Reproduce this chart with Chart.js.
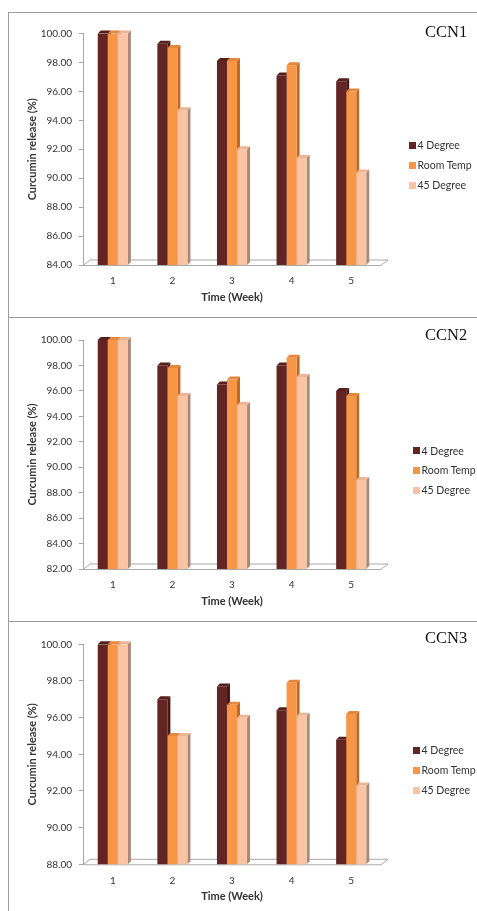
<!DOCTYPE html>
<html>
<head>
<meta charset="utf-8">
<script src="https://cdn.jsdelivr.net/npm/chart.js@4.4.1/dist/chart.umd.min.js"></script>
<style>
  html, body { margin: 0; padding: 0; background: #fff; }
  body { width: 477px; height: 911px; position: relative; overflow: hidden; font-family: Lato, "Open Sans", sans-serif; }
  .frame { position: absolute; left: 8px; width: 469px; box-sizing: border-box;
           border-left: 1px solid #9c9c9c; border-top: 1px solid #9c9c9c; }
  canvas.plot { position: absolute; left: 9px; }
  .tag { position: absolute; left: 425px; font-family: "Liberation Serif", "Times New Roman", serif;
         font-size: 16.5px; line-height: 16.5px; color: #111; white-space: nowrap; }
  .legend { position: absolute; font-family: Lato, sans-serif; font-size: 10.5px; color: #333; }
  .legend .row { position: absolute; left: 0; height: 14px; line-height: 14px; white-space: nowrap; }
  .legend .sw { position: absolute; left: 0; top: 3.5px; width: 7px; height: 7px; }
  .legend .tx { position: absolute; left: 8.5px; top: 0; }
</style>
</head>
<body>
<div class="frame" style="top:12px;height:306px;"></div>
<div class="frame" style="top:317px;height:305px;"></div>
<div class="frame" style="top:621px;height:300px;"></div>

<canvas class="plot" id="c1" width="468" height="304" style="top:13px;width:468px;height:304px;"></canvas>
<canvas class="plot" id="c2" width="468" height="303" style="top:318px;width:468px;height:303px;"></canvas>
<canvas class="plot" id="c3" width="468" height="288" style="top:623px;width:468px;height:288px;"></canvas>

<script>
// Storage weeks and the three storage conditions
const weeks = ['1', '2', '3', '4', '5'];
const seriesNames = ['4 Degree', 'Room Temp', '45 Degree'];

// CCN1 curcumin release (%)
const ccn1Cold = [100.0, 99.3, 98.1, 97.1, 96.7];
const ccn1Room = [100.0, 99.0, 98.1, 97.8, 96.0];
const ccn1Hot  = [100.0, 94.7, 92.0, 91.4, 90.4];
const ccn1Range = [84, 100];

// CCN2 curcumin release (%)
const ccn2Cold = [100.0, 98.0, 96.5, 98.0, 96.0];
const ccn2Room = [100.0, 97.8, 96.9, 98.6, 95.6];
const ccn2Hot  = [100.0, 95.6, 94.9, 97.1, 89.0];
const ccn2Range = [82, 100];

// CCN3 curcumin release (%)
const ccn3Cold = [100.0, 97.0, 97.7, 96.4, 94.8];
const ccn3Room = [100.0, 95.0, 96.7, 97.9, 96.2];
const ccn3Hot  = [100.0, 95.0, 96.0, 96.1, 92.3];
const ccn3Range = [88, 100];

const yStep = 2;

// Column face colours: front, right side, top
const frontColors = ['#632523', '#F79646', '#FAC3A3'];
const sideColors  = ['#461816', '#bf6a25', '#a88878'];
const topColors   = ['#561f1d', '#e5873a', '#eeb496'];

const DEPTH = 3;               // column extrusion
const FLOOR_DX = 7, FLOOR_DY = -5.5;

// Draws the floor slab and the side/top faces of each column
const box3d = {
  id: 'box3d',
  beforeDatasetsDraw(chart) {
    const { ctx, chartArea: a } = chart;
    ctx.save();
    ctx.beginPath();
    ctx.moveTo(a.left, a.bottom + 0.5);
    ctx.lineTo(a.right, a.bottom + 0.5);
    ctx.lineTo(a.right + FLOOR_DX, a.bottom + 0.5 + FLOOR_DY);
    ctx.lineTo(a.left + FLOOR_DX, a.bottom + 0.5 + FLOOR_DY);
    ctx.closePath();
    ctx.fillStyle = '#ffffff';
    ctx.fill();
    ctx.strokeStyle = '#a9a9a9';
    ctx.lineWidth = 1;
    ctx.stroke();

    chart.data.datasets.forEach((ds, di) => {
      const meta = chart.getDatasetMeta(di);
      meta.data.forEach(bar => {
        const { x, y, base, width } = bar.getProps(['x', 'y', 'base', 'width'], true);
        const b = Math.min(base, a.bottom);
        const l = x - width / 2, r = x + width / 2;
        ctx.fillStyle = sideColors[di];
        ctx.beginPath();
        ctx.moveTo(r, y);
        ctx.lineTo(r + DEPTH, y - DEPTH);
        ctx.lineTo(r + DEPTH, b - DEPTH);
        ctx.lineTo(r, b);
        ctx.closePath();
        ctx.fill();
        ctx.fillStyle = topColors[di];
        ctx.beginPath();
        ctx.moveTo(l, y);
        ctx.lineTo(l + DEPTH, y - DEPTH);
        ctx.lineTo(r + DEPTH, y - DEPTH);
        ctx.lineTo(r, y);
        ctx.closePath();
        ctx.fill();
      });
    });
    ctx.restore();
  }
};

const panels = [
  { id: 'c1', name: 'CCN1', series: [ccn1Cold, ccn1Room, ccn1Hot], range: ccn1Range,
    canvasTop: 13, height: 304, areaTop: 20.5, areaBottom: 252,
    tagTop: 23.8, legendLeft: 409, legendRows: [145, 165, 185] },
  { id: 'c2', name: 'CCN2', series: [ccn2Cold, ccn2Room, ccn2Hot], range: ccn2Range,
    canvasTop: 318, height: 303, areaTop: 22, areaBottom: 251,
    tagTop: 327.4, legendLeft: 413, legendRows: [450.7, 470, 490] },
  { id: 'c3', name: 'CCN3', series: [ccn3Cold, ccn3Room, ccn3Hot], range: ccn3Range,
    canvasTop: 623, height: 288, areaTop: 21.3, areaBottom: 241.3,
    tagTop: 630.4, legendLeft: 413, legendRows: [750, 770, 790] }
];

const AXIS_W = 74, X_AXIS_H = 40, RIGHT_PAD = 96;
const tickFont = { family: 'Lato', size: 10 };
const titleFont = { family: 'Lato', size: 11, weight: 'bold' };
const textColor = '#333333';
const axisGrey = '#a6a6a6';

panels.forEach(p => {
  const ctx = document.getElementById(p.id).getContext('2d');
  new Chart(ctx, {
    type: 'bar',
    data: {
      labels: weeks,
      datasets: seriesNames.map((name, i) => ({
        label: name,
        data: p.series[i],
        backgroundColor: frontColors[i],
        borderWidth: 0,
        barPercentage: 1,
        categoryPercentage: 0.505
      }))
    },
    options: {
      responsive: false,
      animation: false,
      devicePixelRatio: 1,
      layout: { padding: { top: p.areaTop, left: 0, right: RIGHT_PAD, bottom: p.height - p.areaBottom - X_AXIS_H } },
      plugins: { legend: { display: false }, tooltip: { enabled: false }, title: { display: false } },
      scales: {
        x: {
          grid: { display: false, drawTicks: false },
          border: { display: false },
          ticks: { padding: 10, font: tickFont, color: textColor },
          title: { display: true, text: 'Time (Week)', font: titleFont, color: textColor, padding: { top: 0, bottom: 1 } },
          afterFit(s) { s.height = X_AXIS_H; }
        },
        y: {
          min: p.range[0],
          max: p.range[1],
          grid: { drawOnChartArea: false, drawTicks: true, tickLength: 4, color: axisGrey },
          border: { display: true, color: axisGrey },
          ticks: { stepSize: yStep, padding: 7, font: tickFont, color: textColor,
                   callback: v => Number(v).toFixed(2) },
          title: { display: true, text: 'Curcumin release (%)', font: titleFont, color: textColor, padding: { top: 17, bottom: 0 } },
          afterFit(s) { s.width = AXIS_W; }
        }
      }
    },
    plugins: [box3d]
  });

  // panel name
  const tag = document.createElement('div');
  tag.className = 'tag';
  tag.style.top = p.tagTop + 'px';
  tag.textContent = p.name;
  document.body.appendChild(tag);

  // legend
  const lg = document.createElement('div');
  lg.className = 'legend';
  lg.style.left = p.legendLeft + 'px';
  lg.style.top = '0px';
  seriesNames.forEach((name, i) => {
    const row = document.createElement('div');
    row.className = 'row';
    row.style.top = (p.legendRows[i] - 7) + 'px';
    const sw = document.createElement('span');
    sw.className = 'sw';
    sw.style.background = frontColors[i];
    const tx = document.createElement('span');
    tx.className = 'tx';
    tx.textContent = name;
    row.appendChild(sw);
    row.appendChild(tx);
    lg.appendChild(row);
  });
  document.body.appendChild(lg);
});
</script>
</body>
</html>
